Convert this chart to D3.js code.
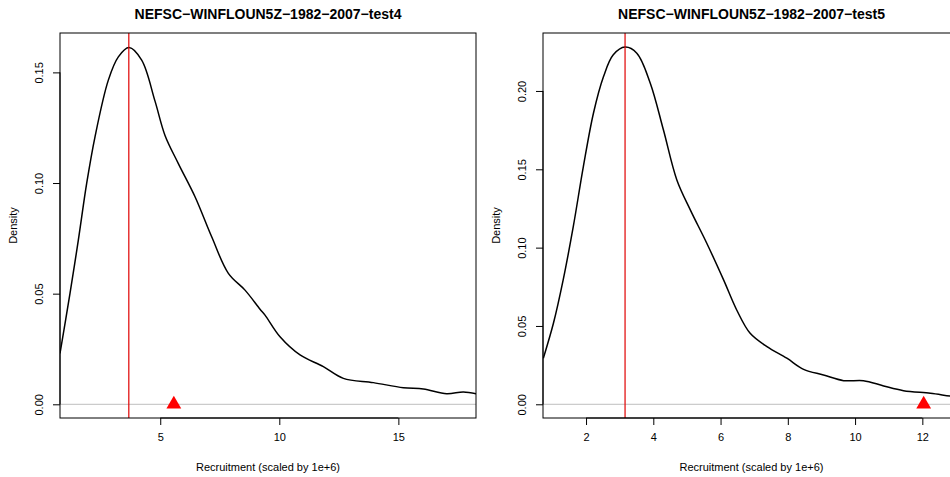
<!DOCTYPE html>
<html>
<head>
<meta charset="utf-8">
<script src="https://cdn.jsdelivr.net/npm/d3@7"></script>
<style>
  body { margin: 0; background: #fff; }
  text { font-family: "Liberation Sans", Arial, sans-serif; }
</style>
</head>
<body>
<div id="chart"></div>
<script>
// panel 1 (test4)
const x4 = [0.79, 1.21, 1.56, 1.91, 2.26, 2.82, 3.24, 3.69, 4.22, 4.78, 5.20, 5.76, 6.46, 7.16, 7.86, 8.56, 9.19, 9.40, 10.03, 10.87, 11.85, 12.69, 13.95, 15.21, 16.05, 17.03, 17.73, 18.29];
const d4 = [0.0230, 0.0501, 0.0742, 0.0998, 0.1209, 0.1465, 0.1570, 0.1612, 0.1555, 0.1370, 0.1215, 0.1088, 0.0938, 0.0757, 0.0592, 0.0516, 0.0430, 0.0403, 0.0305, 0.0223, 0.0170, 0.0117, 0.0098, 0.0075, 0.0069, 0.0048, 0.0056, 0.0047];
// panel 2 (test5)
const x5 = [0.73, 1.03, 1.32, 1.62, 1.92, 2.22, 2.52, 2.81, 3.16, 3.51, 3.91, 4.30, 4.70, 5.10, 5.59, 6.09, 6.48, 6.88, 7.38, 7.97, 8.47, 9.06, 9.66, 10.25, 10.85, 11.44, 12.24, 12.83, 13.2];
const d5 = [0.0294, 0.0517, 0.0794, 0.1134, 0.1517, 0.1858, 0.2092, 0.2231, 0.2280, 0.2241, 0.2050, 0.1752, 0.1432, 0.1241, 0.1028, 0.0794, 0.0602, 0.0453, 0.0368, 0.0294, 0.0223, 0.0187, 0.0151, 0.0151, 0.0117, 0.0087, 0.0070, 0.0053, 0.0044];

const panels = [
  { title: 'NEFSC−WINFLOUN5Z−1982−2007−test4', xs: x4, ds: d4, mode: 3.68, obs: 5.57,
    xDomain: [0.79, 18.26], yDomain: [-0.00619, 0.1678], xTicks: [5, 10, 15], yTicks: [0, 0.05, 0.10, 0.15],
    left: 60, right: 476 },
  { title: 'NEFSC−WINFLOUN5Z−1982−2007−test5', xs: x5, ds: d5, mode: 3.16, obs: 12.04,
    xDomain: [0.72, 13.12], yDomain: [-0.00875, 0.2370], xTicks: [2, 4, 6, 8, 10, 12], yTicks: [0, 0.05, 0.10, 0.15, 0.20],
    left: 543, right: 960 }
];

const width = 950;
const height = 477;
const plotTop = 33;
const plotBottom = 418;

const svg = d3.select('#chart')
  .append('svg')
  .attr('width', width)
  .attr('height', height)

panels.forEach((p, k) => {
  const g = svg.append('g');
  const clipId = 'clip' + k;

  svg.append('clipPath')
    .attr('id', clipId)
    .append('rect')
    .attr('x', p.left)
    .attr('y', plotTop)
    .attr('width', p.right - p.left)
    .attr('height', plotBottom - plotTop)

  const xScale = d3.scaleLinear().domain(p.xDomain).range([p.left, p.right]);
  const yScale = d3.scaleLinear().domain(p.yDomain).range([plotBottom, plotTop]);

  const plot = g.append('g').attr('clip-path', `url(#${clipId})`);

  // zero line
  plot.append('line')
    .attr('x1', p.left).attr('x2', p.right)
    .attr('y1', yScale(0)).attr('y2', yScale(0))
    .attr('stroke', '#bebebe')

  const line = d3.line()
    .x((d, i) => xScale(p.xs[i]))
    .y((d) => yScale(d))
    .curve(d3.curveCatmullRom.alpha(0.5))

  plot.append('path')
    .datum(p.ds)
    .attr('d', line)
    .attr('fill', 'none')
    .attr('stroke', '#000')
    .attr('stroke-width', 1.5)

  plot.append('line')
    .attr('x1', xScale(p.mode)).attr('x2', xScale(p.mode))
    .attr('y1', plotTop).attr('y2', plotBottom)
    .attr('stroke', '#e00000')
    .attr('stroke-width', 1.2)

  plot.append('path')
    .attr('d', d3.symbol(d3.symbolTriangle, 95)())
    .attr('transform', `translate(${xScale(p.obs)}, ${yScale(0)})`)
    .attr('fill', '#ff0000')

  // box
  g.append('rect')
    .attr('x', p.left).attr('y', plotTop)
    .attr('width', p.right - p.left).attr('height', plotBottom - plotTop)
    .attr('fill', 'none')
    .attr('stroke', '#000')
    .attr('stroke-width', 1)

  const xAxis = d3.axisBottom(xScale)
    .tickValues(p.xTicks)
    .tickSize(7)
    .tickSizeOuter(0)
    .tickPadding(8)
    .tickFormat(d3.format('d'))

  const gx = g.append('g')
    .attr('transform', `translate(0, ${plotBottom})`)
    .call(xAxis)
  gx.select('.domain')
    .attr('d', `M${xScale(p.xTicks[0])},0H${xScale(p.xTicks[p.xTicks.length - 1])}`)
  gx.selectAll('text').style('font-size', '11px').attr('fill', '#000')

  const yAxis = d3.axisLeft(yScale)
    .tickValues(p.yTicks)
    .tickSize(7)
    .tickSizeOuter(0)
    .tickFormat(d3.format('.2f'))

  const gy = g.append('g')
    .attr('transform', `translate(${p.left}, 0)`)
    .call(yAxis)
  gy.select('.domain')
    .attr('d', `M0,${yScale(p.yTicks[0])}V${yScale(p.yTicks[p.yTicks.length - 1])}`)
  gy.selectAll('.tick text')
    .attr('x', 0).attr('dy', 0)
    .attr('transform', 'translate(-17, 0) rotate(-90)')
    .style('text-anchor', 'middle')
    .style('font-size', '11px')
    .attr('fill', '#000')

  g.append('text')
    .attr('x', (p.left + p.right) / 2)
    .attr('y', 19)
    .attr('text-anchor', 'middle')
    .style('font-weight', 'bold')
    .style('font-size', '14px')
    .text(p.title)

  g.append('text')
    .attr('x', (p.left + p.right) / 2)
    .attr('y', 471)
    .attr('text-anchor', 'middle')
    .style('font-size', '11px')
    .text('Recruitment (scaled by 1e+6)')

  g.append('text')
    .attr('transform', `translate(${p.left - 43}, ${(plotTop + plotBottom) / 2}) rotate(-90)`)
    .attr('text-anchor', 'middle')
    .style('font-size', '11px')
    .text('Density')
})
</script>
</body>
</html>
